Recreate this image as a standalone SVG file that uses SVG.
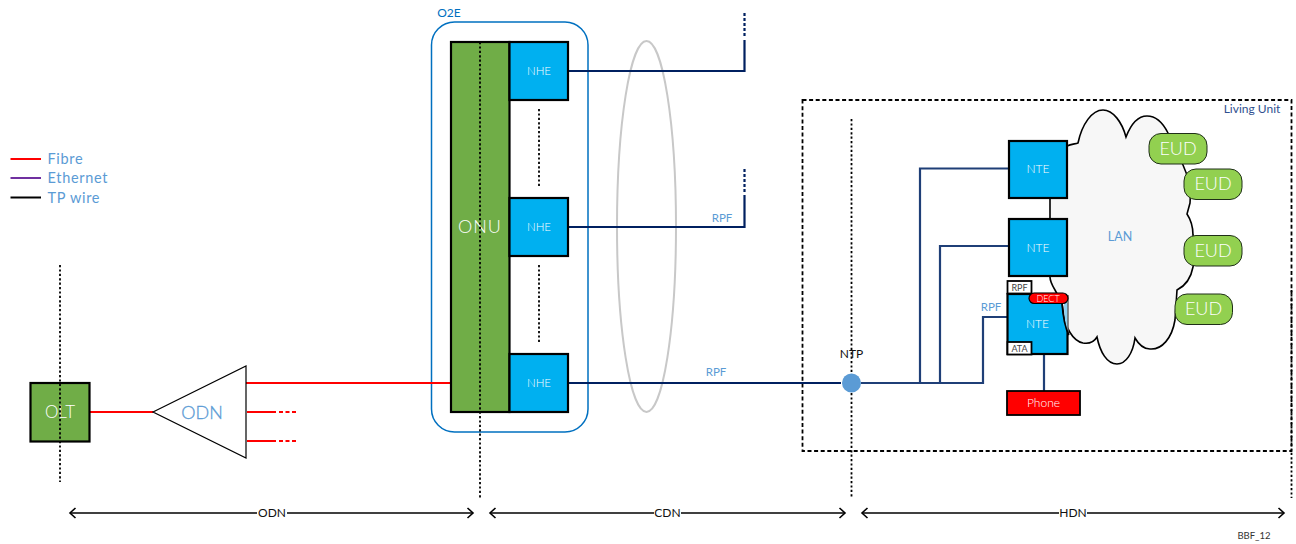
<svg xmlns="http://www.w3.org/2000/svg" width="1296" height="544" viewBox="0 0 1296 544">
<style>
text{font-family:Lato,"Liberation Sans",sans-serif;text-anchor:middle}
.sq{stroke:#000;stroke-width:2.2}
.blue{fill:#00b0f0}
.grn{fill:#70ad47}
.link{fill:none;stroke:#002060;stroke-width:2.2}
.nav{fill:none;stroke:#1f3f77;stroke-width:2.2}
.fib{fill:none;stroke:#f00;stroke-width:2}
.dot{fill:none;stroke:#000;stroke-width:1.8;stroke-dasharray:2.2 2.2}
.dim{fill:none;stroke:#000;stroke-width:1.5}
.eud{fill:#92d050;stroke:#1f2f18;stroke-width:1}
.l1{fill:#fff;font-size:11.5px;font-weight:300}
.l2{fill:#5b9bd5}
.k{fill:#111;font-size:12px}
.eudt{fill:#fff;font-size:18px;font-weight:300}
.big{fill:#fff;font-weight:300}
.leg{text-anchor:start;font-size:14.5px;fill:#5b9bd5;letter-spacing:.7px}
</style>
<defs>
<marker id="a" viewBox="-8 -7 10 14" refX="0" refY="0" markerWidth="10" markerHeight="14" markerUnits="userSpaceOnUse" orient="auto-start-reverse"><path d="M-5.500,-5 L0,0 L-5.500,5" fill="none" stroke="#000" stroke-width="1.600"/></marker>
</defs>

<g id="legend">
<line x1="10.5" y1="159" x2="41" y2="159" stroke="#f00" stroke-width="2"/>
<line x1="10.5" y1="178" x2="41" y2="178" stroke="#7030a0" stroke-width="2"/>
<line x1="10.5" y1="197.5" x2="41" y2="197.5" stroke="#000" stroke-width="2"/>
<text class="leg" x="47.5" y="163.500">Fibre</text>
<text class="leg" x="47.5" y="183">Ethernet</text>
<text class="leg" x="47.5" y="202.500">TP wire</text>
</g>

<g id="living-unit">
<rect x="802.500" y="100" width="489" height="351" fill="none" stroke="#000" stroke-width="1.800" stroke-dasharray="4 2.600"/>
<text x="1252" y="113" font-size="12" fill="#2f4f8f">Living Unit</text>
</g>

<g id="o2e">
<rect x="431.500" y="22" width="156.500" height="410" rx="23" fill="none" stroke="#0070c0" stroke-width="1.500"/>
<text x="449" y="17" font-size="12" fill="#0070c0">O2E</text>
</g>

<g id="ellipse"><ellipse cx="646.500" cy="226.500" rx="29.500" ry="185.500" fill="none" stroke="#c8c8c8" stroke-width="2"/></g>

<g id="connectors">
<path class="fib" d="M89,412H153M246,383H451M247,412H276M247,441H276"/>
<path class="fib" style="stroke-dasharray:4 2.500" d="M279,412H296M279,441H296"/>
<path class="link" d="M568,71H744.500V40M568,227H744.500V195"/>
<path class="link" style="stroke-dasharray:3 2" d="M744.500,36V13M744.500,192V169"/>
<path class="link" d="M568,383H841"/>
<path class="nav" d="M861,383H983V317H1007M920,383V168.500H1009M940,383V246H1009M1044,354V391"/>
</g>

<g id="cloud-back">
<rect id="nte3-box" class="blue sq" x="1007.500" y="294" width="60" height="60"/>
</g>

<g id="lan">
<path d="M1067,146 C1071,144 1075,144 1078,143 C1082,124 1092,110 1103,110 C1113,110 1122,122 1126,137 C1131,124 1138,116 1147,116 C1156,116 1163,123 1168,133 L1183,165 C1189,178 1191,190 1190,203 L1187,214 C1191,220 1193,228 1193,235 C1196,248 1195,258 1193,267 C1191,278 1185,286 1177,290 L1175,320 C1172,338 1162,350 1150,349 C1144,349 1139,345 1135,338 C1133,353 1126,364 1117,364 C1107,364 1100,352 1097,337 C1094,342 1089,344 1083,343 C1073,341 1065,328 1063,310 L1062,303 L1055,290 C1052,285 1050,281 1050,277 L1050,197 Z" fill="#f7f7f7" stroke="#000" stroke-width="1.600"/>
<path d="M1064,303 C1064,315 1065,325 1068,333 V303 Z" fill="#8ed2f2"/>
<line x1="1068" y1="295" x2="1068" y2="333" stroke="#666" stroke-width="1.500"/>
<path d="M1062,303 C1063,318 1065,328 1069,335" fill="none" stroke="#000" stroke-width="1.600"/>
<text class="l2" x="1120" y="241" font-size="12.500">LAN</text>
</g>

<g id="olt"><rect class="grn sq" x="30.500" y="383" width="59" height="58.500"/><text class="big" x="60" y="418" font-size="17">OLT</text></g>
<g id="odn"><path d="M153,412 L246,366 V458 Z" fill="#fff" stroke="#000" stroke-width="1.200"/><text class="l2" x="202" y="419" font-size="18" font-weight="300" stroke="#5b9bd5" stroke-width=".3">ODN</text></g>
<g id="onu"><rect class="grn sq" x="451" y="42" width="58.500" height="370"/><text class="big" x="480" y="233" font-size="18" letter-spacing="1">ONU</text></g>
<g id="nhe1"><rect class="blue sq" x="509.500" y="42" width="58.500" height="58"/><text class="l1" x="539" y="75">NHE</text></g>
<g id="nhe2"><rect class="blue sq" x="509.500" y="198" width="58.500" height="58"/><text class="l1" x="539" y="231">NHE</text></g>
<g id="nhe3"><rect class="blue sq" x="509.500" y="354" width="58.500" height="58"/><text class="l1" x="539" y="387">NHE</text></g>

<g id="guides">
<path class="dot" d="M60,265V482M480,42V498M539,109V188M539,265V344M851.500,119V373M851.500,393V498M1291.500,290V498"/>
</g>

<g id="ntp"><circle cx="851.500" cy="383" r="9.500" fill="#5b9bd5"/><text class="k" x="851.500" y="358">NTP</text></g>

<g id="nte1"><rect class="blue sq" x="1009" y="141" width="58" height="57"/><text class="l1" x="1038" y="173" style="font-size:12px">NTE</text></g>
<g id="nte2"><rect class="blue sq" x="1009" y="219" width="58" height="57"/><text class="l1" x="1038" y="252" style="font-size:12px">NTE</text></g>
<g id="nte3"><text class="l1" x="1037.500" y="328" style="font-size:12px">NTE</text>
<rect x="1007.500" y="281" width="24" height="12.500" fill="#fff" stroke="#000" stroke-width="1.800"/><text x="1019.500" y="290.500" font-size="9" fill="#444">RPF</text>
<rect x="1007.500" y="342" width="24" height="12.500" fill="#fff" stroke="#000" stroke-width="1.800"/><text x="1019.500" y="351.500" font-size="9" fill="#444">ATA</text>
</g>
<g id="dect"><rect x="1029" y="293" width="39" height="10.500" rx="5.200" fill="#f00" stroke="#000" stroke-width="1.200"/><text x="1048" y="301.500" font-size="9" fill="#fff" font-weight="300">DECT</text></g>
<g id="phone"><rect x="1007" y="391" width="73" height="24" fill="#f00" stroke="#000" stroke-width="1.800"/><text x="1043.500" y="407" font-size="12" fill="#fff" font-weight="300">Phone</text></g>

<g id="eud1"><rect class="eud" x="1149" y="133.500" width="58" height="30.500" rx="12"/><text class="eudt" x="1178" y="155">EUD</text></g>
<g id="eud2"><rect class="eud" x="1184" y="169" width="58" height="30.500" rx="12"/><text class="eudt" x="1213" y="190">EUD</text></g>
<g id="eud3"><rect class="eud" x="1184" y="235.500" width="58" height="30.500" rx="12"/><text class="eudt" x="1213" y="257">EUD</text></g>
<g id="eud4"><rect class="eud" x="1175" y="294" width="57.500" height="30.500" rx="12"/><text class="eudt" x="1203.500" y="315">EUD</text></g>

<g id="labels">
<text class="l2" x="722" y="222" font-size="11.500">RPF</text>
<text class="l2" x="716" y="376" font-size="11.500">RPF</text>
<text class="l2" x="991" y="311" font-size="11.500">RPF</text>
</g>

<g id="dimensions">
<path class="dim" marker-start="url(#a)" d="M70,513H257"/><path class="dim" marker-end="url(#a)" d="M287,513H473"/>
<path class="dim" marker-start="url(#a)" d="M490,513H654"/><path class="dim" marker-end="url(#a)" d="M681,513H845"/>
<path class="dim" marker-start="url(#a)" d="M862,513H1059"/><path class="dim" marker-end="url(#a)" d="M1087,513H1284"/>
<text class="k" x="272" y="517">ODN</text>
<text class="k" x="667.500" y="517">CDN</text>
<text class="k" x="1073" y="517">HDN</text>
<text x="1254" y="539" font-size="9.500" fill="#333">BBF_12</text>
</g>
</svg>
